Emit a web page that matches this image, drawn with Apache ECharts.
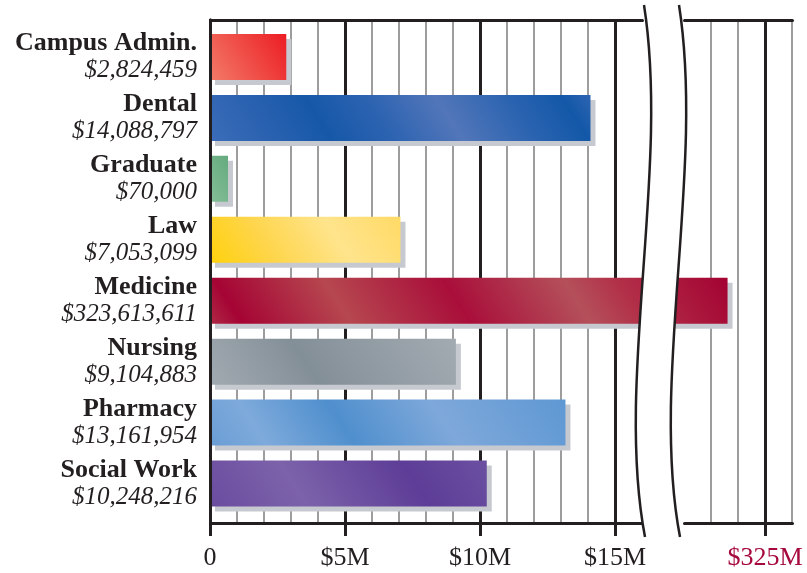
<!DOCTYPE html>
<html>
<head>
<meta charset="utf-8">
<script src="https://cdn.jsdelivr.net/npm/echarts@6/dist/echarts.min.js"></script>
<style>
  html, body { margin: 0; padding: 0; background: #fff; }
  #main { width: 807px; height: 573px; }
</style>
</head>
<body>
<div id="main"></div>
<script>
// data
const categories = ['Campus Admin.', 'Dental', 'Graduate', 'Law', 'Medicine', 'Nursing', 'Pharmacy', 'Social Work'];
const amounts = [2824459, 14088797, 70000, 7053099, 323613611, 9104883, 13161954, 10248216];
const tickValues = [0, 5e6, 10e6, 15e6, 325e6];
const axisBreak = { start: 16e6, end: 322e6, gap: 1.55e6 };

// bar fills, stops go from bottom-left to top-right of each bar
const barStops = [
  [[0, '#f37b67'], [1, '#ec1d25']],
  [[0, '#3b6db9'], [0.12, '#2e64b2'], [0.3, '#1658a8'], [0.45, '#2c63b1'], [0.62, '#5276b9'], [0.8, '#2a63b0'], [0.93, '#1358a8'], [1, '#2d64b1']],
  [[0, '#85bf98'], [1, '#65aa7f']],
  [[0, '#ffd10c'], [0.3, '#fed54a'], [0.65, '#ffe48c'], [1, '#ffda66']],
  [[0, '#b02a46'], [0.06, '#a50434'], [0.26, '#b6474f'], [0.48, '#a90e3a'], [0.7, '#b4505a'], [0.8, '#b22f48'], [1, '#a30232']],
  [[0, '#a2aab1'], [0.4, '#838f97'], [1, '#a3abb2']],
  [[0, '#6a9dd5'], [0.15, '#7eaadb'], [0.38, '#4f8fcd'], [0.65, '#7ea8da'], [1, '#5e98d3']],
  [[0, '#6a4c9f'], [0.32, '#7c62aa'], [0.72, '#5d3d97'], [1, '#6b50a1']]
];

const ink = '#231f20';
const crimson = '#a6093d';
const serif = 'Liberation Serif';
const barH = 46;
const minBar = 18;

function money(v) {
  return '$' + String(v).replace(/\B(?=(\d{3})+(?!\d))/g, ',');
}

function tickText(v) {
  if (v === 0) return '0';
  if (tickValues.indexOf(v) >= 0) return '$' + (v / 1e6) + 'M';
  return '';
}

// diagonal sheen, bands slant about 57 degrees
function barFill(i, w) {
  const s = 0.84 * w + 0.54 * barH;
  return new echarts.graphic.LinearGradient(0, 1, 0.84 * s / w, 1 - 0.54 * s / barH,
    barStops[i].map(function (p) { return { offset: p[0], color: p[1] }; }));
}

// s-shaped break marks
function bez(p, t) {
  const u = 1 - t;
  return [
    u * u * u * p[0][0] + 3 * u * u * t * p[1][0] + 3 * u * t * t * p[2][0] + t * t * t * p[3][0],
    u * u * u * p[0][1] + 3 * u * u * t * p[1][1] + 3 * u * t * t * p[2][1] + t * t * t * p[3][1]
  ];
}
const leftCurve = [[644, 5], [670, 170], [615, 380], [645, 537]];
const rightCurve = leftCurve.map(function (p) { return [p[0] + 35, p[1]]; });
const gapPoly = [];
for (let k = 0; k <= 40; k++) gapPoly.push(bez(leftCurve, k / 40));
for (let k = 40; k >= 0; k--) gapPoly.push(bez(rightCurve, k / 40));

function curveEl(p) {
  return {
    type: 'bezierCurve', z: 101,
    shape: { x1: p[0][0], y1: p[0][1], cpx1: p[1][0], cpy1: p[1][1], cpx2: p[2][0], cpy2: p[2][1], x2: p[3][0], y2: p[3][1] },
    style: { stroke: ink, lineWidth: 2.5, fill: null }
  };
}

const chart = echarts.init(document.getElementById('main'));

const xBase = {
  type: 'value',
  min: 0,
  max: 326e6,
  breaks: [axisBreak],
  breakArea: { show: false }
};
const noAxis = { axisLine: { show: false }, axisTick: { show: false }, axisLabel: { show: false }, splitLine: { show: false } };

chart.setOption({
  animation: false,
  backgroundColor: '#fff',
  grid: [
    { left: 210, right: 15, top: 20, bottom: 50 },   // frame
    { left: 210, right: 15, top: 26.5, bottom: 59 }, // bars
    { left: 210, right: 15, top: 20, bottom: 37 }    // heavy lines + ticks
  ],
  xAxis: [
    // thin $1M lines
    Object.assign({}, xBase, noAxis, {
      gridIndex: 0, position: 'bottom', offset: 0, interval: 1e6,
      splitLine: { show: true, lineStyle: { color: '#7d7d7d', width: 1.5 } }
    }),
    // bottom axis with labels
    Object.assign({}, xBase, {
      gridIndex: 0, position: 'bottom', offset: 0,
      axisLine: { show: true, lineStyle: { color: ink, width: 3 } },
      axisTick: { show: false },
      splitLine: { show: false },
      axisLabel: {
        customValues: tickValues,
        margin: 22, fontFamily: serif, fontSize: 26,
        color: function (v) { return Number(v) > axisBreak.end ? crimson : ink; },
        formatter: tickText
      }
    }),
    // top border
    Object.assign({}, xBase, noAxis, {
      gridIndex: 0, position: 'top', offset: 0,
      axisLine: { show: true, lineStyle: { color: ink, width: 3 } }
    }),
    Object.assign({}, xBase, { gridIndex: 1, show: false }),
    Object.assign({}, xBase, { gridIndex: 2, show: false })
  ],
  yAxis: [
    Object.assign({ gridIndex: 0, type: 'value', min: 0, max: 1, z: 5 }, noAxis, {
      axisLine: { show: true, lineStyle: { color: ink, width: 3 } }
    }),
    Object.assign({ gridIndex: 0, type: 'value', min: 0, max: 1, position: 'right' }, noAxis, {
      axisLine: { show: true, lineStyle: { color: ink, width: 3 } }
    }),
    {
      gridIndex: 1, type: 'category', inverse: true, data: categories,
      axisLine: { show: false }, axisTick: { show: false }, splitLine: { show: false },
      axisLabel: {
        margin: 13,
        formatter: function (name, idx) {
          return '{n|' + name + '}\n{v|' + money(amounts[idx]) + '}';
        },
        rich: {
          n: { fontFamily: serif, fontWeight: 'bold', fontSize: 26, lineHeight: 27, color: ink, align: 'right' },
          v: { fontFamily: serif, fontStyle: 'italic', fontSize: 25, lineHeight: 27, color: ink, align: 'right' }
        }
      }
    },
    { gridIndex: 2, type: 'value', min: 0, max: 1, show: false }
  ],
  series: [
    {
      // heavy gridlines at the labelled ticks, running down into the tick marks
      type: 'line',
      xAxisIndex: 4,
      yAxisIndex: 3,
      z: 1,
      data: [],
      markLine: {
        silent: true,
        z: 1,
        symbol: 'none',
        animation: false,
        label: { show: false },
        lineStyle: { color: ink, width: 3, type: 'solid' },
        data: tickValues.map(function (v) { return { xAxis: v }; })
      }
    },
    {
      type: 'bar',
      xAxisIndex: 3,
      yAxisIndex: 2,
      z: 2,
      barWidth: barH,
      barMinHeight: minBar,
      data: amounts,
      itemStyle: {
        color: '#888',
        shadowColor: '#c6cad0',
        shadowBlur: 0,
        shadowOffsetX: 5,
        shadowOffsetY: 5
      }
    }
  ],
  graphic: [
    { type: 'polygon', z: 100, shape: { points: gapPoly }, style: { fill: '#fff', stroke: null } },
    curveEl(leftCurve),
    curveEl(rightCurve)
  ]
});

// second pass: gradients sized to each bar's drawn length
const x0 = chart.convertToPixel({ xAxisIndex: 3 }, 0);
chart.setOption({
  series: [{}, {
    data: amounts.map(function (v, i) {
      const w = Math.max(minBar, chart.convertToPixel({ xAxisIndex: 3 }, v) - x0);
      return { value: v, itemStyle: { color: barFill(i, w) } };
    })
  }]
});
</script>
</body>
</html>
